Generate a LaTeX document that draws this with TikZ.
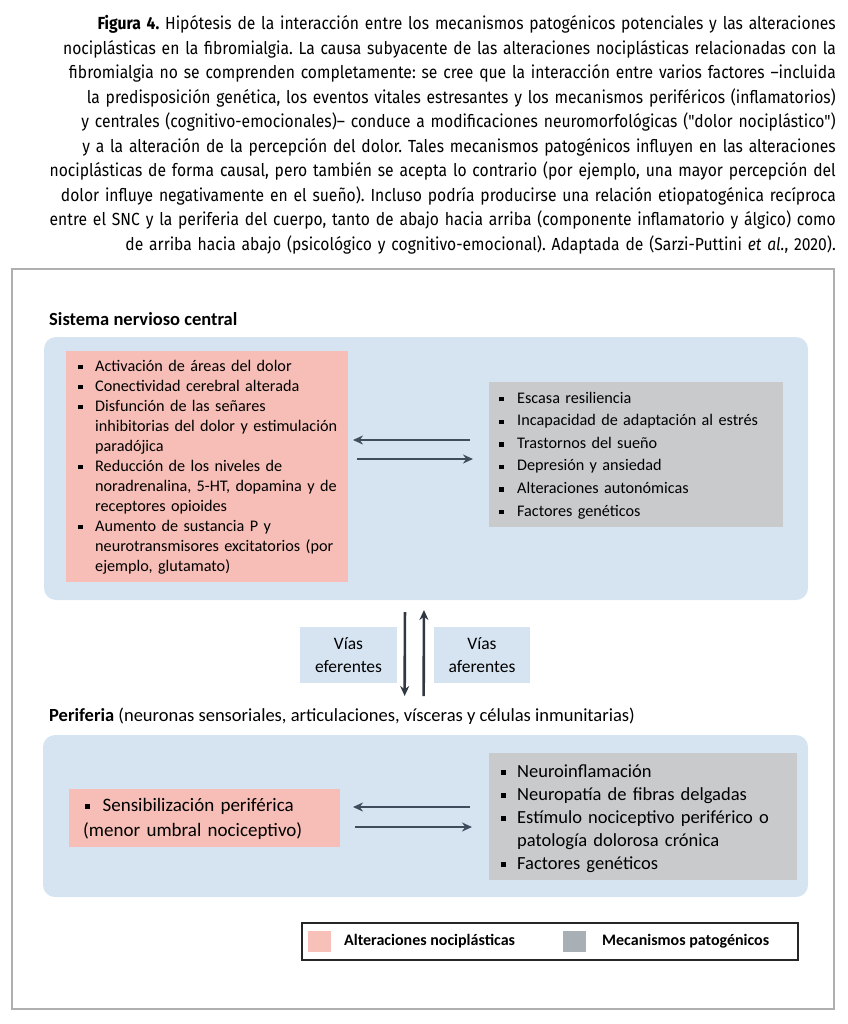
\documentclass[tikz,border=0pt]{standalone}
\usepackage{fontspec}
\setmainfont{Carlito}
\newfontfamily\capfont[FakeStretch=0.895,Ligatures=TeXOff]{Fira Sans}
\usetikzlibrary{arrows.meta,calc}
\definecolor{cnsblue}{RGB}{214,228,242}
\definecolor{pinkbg}{RGB}{246,190,182}
\definecolor{graybg}{RGB}{201,202,203}
\definecolor{legpink}{RGB}{247,192,184}
\definecolor{leggray}{RGB}{168,176,182}
\definecolor{arrowc}{RGB}{62,76,92}
\definecolor{varrowc}{RGB}{50,56,66}
\definecolor{framec}{RGB}{175,175,175}
\newlength\bind
\newcommand\sqb{\rule[\dimexpr0.233em-2.2pt\relax]{4.4pt}{4.4pt}}
\newcommand\bitem[1]{\hangindent=\bind\hangafter=1\noindent\makebox[\bind][l]{\sqb}#1\par}
\frenchspacing
\tikzset{
  boxfill/.style={inner sep=0pt,outer sep=0pt,anchor=north west},
  bluebox/.style={boxfill,fill=cnsblue,rounded corners=12pt},
  pinkbox/.style={boxfill,fill=pinkbg},
  graybox/.style={boxfill,fill=graybg},
  listtext/.style={inner sep=0pt,anchor=base west,align=left,text width=300pt},
  harr/.style={draw=arrowc,line width=2.6pt,-{Stealth[length=10pt,width=9pt]}},
  varr/.style={draw=varrowc,line width=2.6pt,-{Stealth[length=10pt,width=9pt]}},
  title/.style={inner sep=0pt,anchor=base west,font=\fontsize{18.5pt}{22pt}\selectfont},
}
\begin{document}
\begin{tikzpicture}[x=1pt,y=-1pt]
\useasboundingbox (0,0) rectangle (847,1024);
% caption
\node[inner sep=0pt,anchor=base east,text width=820pt,align=right,
      font=\capfont\fontsize{17.5pt}{24.5pt}\selectfont\frenchspacing] (caption) at (836,30) {%
\textbf{Figura 4.} Hipótesis de la interacción entre los mecanismos patogénicos potenciales y las alteraciones\\
nociplásticas en la fibromialgia. La causa subyacente de las alteraciones nociplásticas relacionadas con la\\
fibromialgia no se comprenden completamente: se cree que la interacción entre varios factores –incluida\\
la predisposición genética, los eventos vitales estresantes y los mecanismos periféricos (inflamatorios)\\
y centrales (cognitivo-emocionales)– conduce a modificaciones neuromorfológicas ("dolor nociplástico")\\
y a la alteración de la percepción del dolor. Tales mecanismos patogénicos influyen en las alteraciones\\
nociplásticas de forma causal, pero también se acepta lo contrario (por ejemplo, una mayor percepción del\\
dolor influye negativamente en el sueño). Incluso podría producirse una relación etiopatogénica recíproca\\
entre el SNC y la periferia del cuerpo, tanto de abajo hacia arriba (componente inflamatorio y álgico) como\\
de arriba hacia abajo (psicológico y cognitivo-emocional). Adaptada de (Sarzi-Puttini \textit{et al.}, 2020).};
% frame
\node[draw=framec,line width=1.5pt,inner sep=0pt,outer sep=0pt,anchor=north west,
      minimum width=822pt,minimum height=740pt] (frame) at (12,269) {};
% CNS
\node[title] (cnsTitle) at (49,325) {\textbf{Sistema nervioso central}};
\node[bluebox,minimum width=764pt,minimum height=263pt] (cnsBlue) at (44,337) {};
\node[pinkbox,minimum width=282pt,minimum height=231pt] (cnsPink) at (66,351) {};
\node[graybox,minimum width=294pt,minimum height=145pt] (cnsGray) at (489,382) {};
\node[listtext,font=\fontsize{16.2pt}{20pt}\selectfont] (cnsList) at (78,371) {%
\setlength\bind{17pt}%
\bitem{Activación de áreas del dolor}%
\bitem{Conectividad cerebral alterada}%
\bitem{Disfunción de las señares\newline inhibitorias del dolor y estimulación\newline paradójica}%
\bitem{Reducción de los niveles de\newline noradrenalina, 5-HT, dopamina y de\newline receptores opioides}%
\bitem{Aumento de sustancia P y\newline neurotransmisores excitatorios (por\newline ejemplo, glutamato)}};
\node[listtext,font=\fontsize{16.2pt}{22.6pt}\selectfont] (cnsMech) at (499,403) {%
\setlength\bind{18pt}%
\bitem{Escasa resiliencia}%
\bitem{Incapacidad de adaptación al estrés}%
\bitem{Trastornos del sueño}%
\bitem{Depresión y ansiedad}%
\bitem{Alteraciones autonómicas}%
\bitem{Factores genéticos}};
\coordinate (ua) at ([xshift=-19pt,yshift=14.5pt]cnsGray.west);
\coordinate (ub) at ([xshift=-16pt,yshift=-4.5pt]cnsGray.west);
\draw[harr] (ua) -- (ua -| cnsPink.east) [shorten >=5pt];
\draw[harr] ([xshift=9pt]ub -| cnsPink.east) -- (ub);
% pathways
\node[boxfill,fill=cnsblue,minimum width=97pt,minimum height=56pt,align=center,
      font=\fontsize{17.5pt}{22.5pt}\selectfont] (efer) at (300,627) {Vías\\eferentes};
\node[boxfill,fill=cnsblue,minimum width=96pt,minimum height=56pt,align=center,
      font=\fontsize{17.5pt}{22.5pt}\selectfont] (afer) at (434,627) {Vías\\aferentes};
% periphery
\node[title] (periTitle) at (49,721) {\textbf{Periferia} (neuronas sensoriales, articulaciones, vísceras y células inmunitarias)};
\node[bluebox,minimum width=765pt,minimum height=162pt] (periBlue) at (43,735) {};
\node[pinkbox,minimum width=271pt,minimum height=58pt] (periPink) at (69,789) {};
\node[graybox,minimum width=308pt,minimum height=127pt] (periGray) at (489,753) {};
\node[listtext,font=\fontsize{19pt}{25pt}\selectfont] (periList) at (83,811) {%
\hspace*{2pt}\sqb\hspace{13pt}Sensibilización periférica\\(menor umbral nociceptivo)};
\node[listtext,font=\fontsize{18.5pt}{23pt}\selectfont] (periMech) at (501,777) {%
\setlength\bind{16pt}%
\bitem{Neuroinflamación}%
\bitem{Neuropatía de fibras delgadas}%
\bitem{Estímulo nociceptivo periférico o\newline patología dolorosa crónica}%
\bitem{Factores genéticos}};
\coordinate (la) at ([xshift=-19pt,yshift=9.5pt]periGray.west);
\draw[harr] (la) -- (la -| periPink.east) [shorten >=13pt];
\coordinate (lb) at ([xshift=-17pt,yshift=-10.5pt]periGray.west);
\draw[harr] ([xshift=15pt]lb -| periPink.east) -- (lb);
% vertical arrows
\draw[varr] ([xshift=-21pt]cnsBlue.south) -- ([xshift=-21pt]periBlue.north) [shorten <=12pt,shorten >=39pt];
\draw[varr] ([xshift=-2pt]periBlue.north) -- ([xshift=-2pt]cnsBlue.south) [shorten <=39pt,shorten >=10pt];
% legend
\node[draw=black!85,line width=2pt,inner sep=0pt,outer sep=0pt,anchor=north west,
      minimum width=496pt,minimum height=37pt] (legend) at (302,923) {};
\node[boxfill,fill=legpink,minimum width=23pt,minimum height=21pt] (legP) at (308,931) {};
\node[boxfill,fill=leggray,minimum width=23pt,minimum height=21pt] (legG) at (563,931) {};
\node[inner sep=0pt,anchor=west,font=\fontsize{16pt}{19pt}\selectfont\bfseries] (legPt) at ([xshift=13pt]legP.east) {Alteraciones nociplásticas};
\node[inner sep=0pt,anchor=west,font=\fontsize{16pt}{19pt}\selectfont\bfseries] (legGt) at ([xshift=16pt]legG.east) {Mecanismos patogénicos};
\end{tikzpicture}
\end{document}
